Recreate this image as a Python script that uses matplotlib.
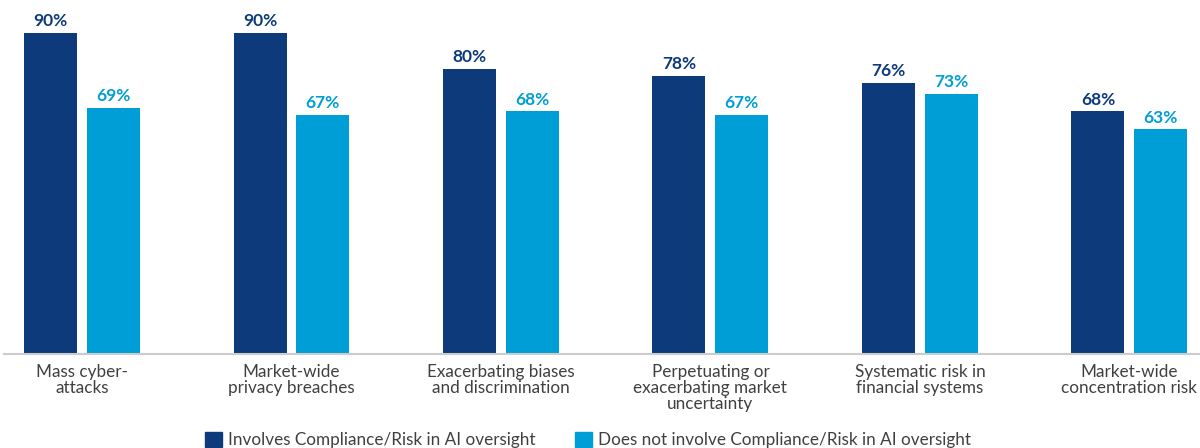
import numpy as np
import matplotlib.pyplot as plt
from matplotlib.patches import Patch

categories = ["Mass cyber-\nattacks", "Market-wide\nprivacy breaches",
              "Exacerbating biases\nand discrimination",
              "Perpetuating or\nexacerbating market\nuncertainty",
              "Systematic risk in\nfinancial systems",
              "Market-wide\nconcentration risk"]
involves = [90, 90, 80, 78, 76, 68]
not_involves = [69, 67, 68, 67, 73, 63]
series_names = ["Involves Compliance/Risk in AI oversight",
                "Does not involve Compliance/Risk in AI oversight"]

dark = "#0c3a7b"
light = "#009ed6"

plt.rcParams['font.family'] = ['Lato', 'DejaVu Sans']

fig = plt.figure(figsize=(12, 4.48), dpi=100)
ax = fig.add_axes([4/1200, 94/448, 1196/1200, 354/448])

x = np.arange(len(categories))
w = 0.253
off = 0.150
b1 = ax.bar(x - off, involves, w, color=dark)
b2 = ax.bar(x + off, not_involves, w, color=light)

for bars, vals, c in [(b1, involves, dark), (b2, not_involves, light)]:
    for b, v in zip(bars, vals):
        ax.text(b.get_x() + b.get_width()/2, v + 1.0, f"{v}%", ha='center',
                va='bottom', fontsize=12.5, fontweight='bold', color=c)

ax.set_xlim(-0.372, 5.337)
ax.set_ylim(0, 99.25)
ax.set_yticks([])
ax.set_xticks(x)
ax.set_xticklabels(categories, fontsize=12.3, color="#404040", linespacing=1.02)
ax.tick_params(axis='x', length=0, pad=7)
for s in ['top', 'right', 'left']:
    ax.spines[s].set_visible(False)
ax.spines['bottom'].set_color("#cccccc")
ax.spines['bottom'].set_linewidth(1.5)

handles = [Patch(color=dark), Patch(color=light)]
fig.legend(handles, series_names, loc='center', bbox_to_anchor=(0.49, 1 - 440/448),
           ncol=2, frameon=False, fontsize=12.3, handlelength=1.0, handleheight=1.0,
           handletextpad=0.35, columnspacing=2.3, labelcolor="#404040")

fig.savefig("out.png", dpi=100)
